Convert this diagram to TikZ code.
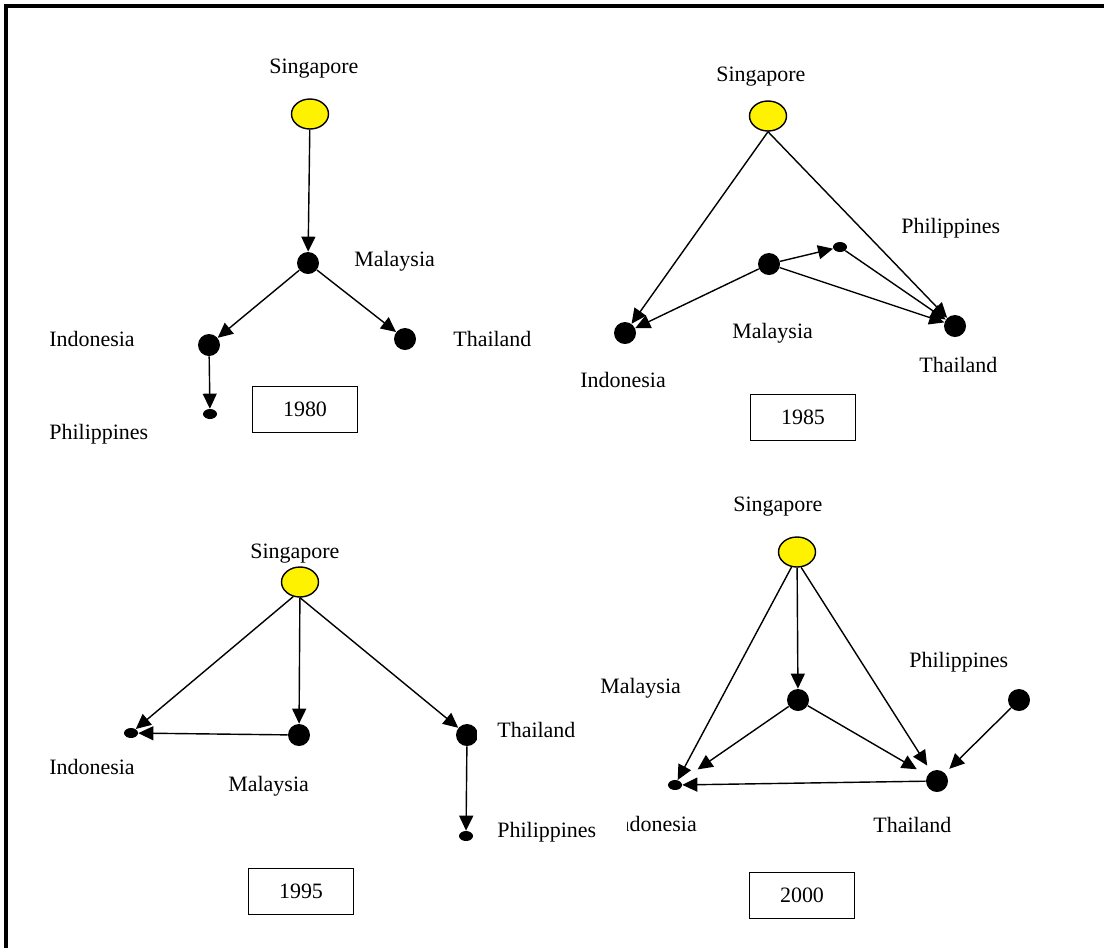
\documentclass[tikz,border=0pt]{standalone}
\usepackage{fontspec}
\setmainfont{Liberation Serif}
\usepackage{tikz}
\usetikzlibrary{arrows.meta}
\usetikzlibrary{shapes.geometric}
\tikzset{edge/.style = {-{Triangle[length=0.3cm, width=0.28cm]}, line width = 0.8pt}}
\tikzset{sing/.style = {ellipse, draw, fill = yellow, line width = 0.8pt, inner sep = 0,
                        minimum width = 0.74cm, minimum height = 0.6cm}}
\tikzset{circ/.style = {fill, circle, inner sep = 0, minimum size = 0.44cm}}
\tikzset{dot/.style = {fill, ellipse, inner sep = 0, minimum width = 0.28cm, minimum height = 0.2cm}}
\tikzset{lab/.style = {fill = white, inner sep = 0, anchor = base west}}
\tikzset{widelab/.style = {lab, inner xsep = 0.4cm, inner ysep = 0.15cm, text width = 2.2cm}}
\tikzset{year/.style = {draw, line width = 0.9pt, minimum width = 2.1cm, minimum height = 0.92cm}}

\begin{document}
\begin{tikzpicture}[x = 0.02cm, y = -0.02cm, font = \fontsize{12.5}{15}\selectfont]
      \useasboundingbox (0, 0) rectangle (1104, 948);
      \draw [line width = 0.08cm] (6, 948) -- (6, 6) -- (1104, 6);

      % 1980
      \node [sing] (sg80) at (310, 114) {};
      \node [circ] (my80) at (308, 263) {};
      \node [circ] (id80) at (209, 345) {};
      \node [circ] (th80) at (405, 339) {};
      \node [dot] (ph80) at (210, 414) {};

      \draw [edge] (sg80) -- (my80);
      \draw [edge] (my80) -- (id80);
      \draw [edge] (my80) -- (th80);
      \draw [edge] (id80) -- (ph80);

      \node [lab] (sgl80) at (269, 73) {Singapore};
      \node [lab] (myl80) at (354, 266) {Malaysia};
      \node [lab] (idl80) at (49, 346) {Indonesia};
      \node [lab] (thl80) at (453, 346) {Thailand};
      \node [lab] (phl80) at (49, 439) {Philippines};
      \node [year] (yr80) at (305, 409.5) {1980};

      % 1985
      \node [sing] (sg85) at (768, 116) {};
      \node [circ] (my85) at (769, 264) {};
      \node [dot] (ph85) at (840, 247) {};
      \node [circ] (id85) at (625, 333) {};
      \node [circ] (th85) at (955, 326) {};

      \draw [edge] (sg85.south) -- (id85);
      \draw [edge] (sg85.south) -- (th85);
      \draw [edge] (my85) -- (ph85);
      \draw [edge] (my85) -- (id85);
      \draw [edge] (my85) -- (th85);
      \draw [edge] (ph85) -- (th85);

      \node [lab] (sgl85) at (716, 81) {Singapore};
      \node [lab] (phl85) at (901, 233) {Philippines};
      \node [lab] (myl85) at (732, 338) {Malaysia};
      \node [lab] (idl85) at (580, 387) {Indonesia};
      \node [lab] (thl85) at (919, 372) {Thailand};
      \node [year] (yr85) at (803, 417.5) {1985};

      % 2000
      \node [sing] (sg00) at (797, 552) {};
      \node [circ] (my00) at (798, 700) {};
      \node [circ] (ph00) at (1019, 700) {};
      \node [dot] (id00) at (675, 785) {};
      \node [circ] (th00) at (937, 781) {};

      \draw [edge] (sg00.250) -- (id00);
      \draw [edge] (sg00) -- (my00);
      \draw [edge, shorten >= 0.14cm] (sg00.285) -- (th00);
      \draw [edge, shorten >= 0.42cm] (my00) -- (id00);
      \draw [edge, shorten >= 0.24cm] (my00) -- (th00);
      \draw [edge, shorten >= 0.12cm] (ph00) -- (th00);
      \draw [edge] (th00) -- (id00);

      \node [lab] (sgl00) at (733, 511) {Singapore};
      \node [lab] (myl00) at (600, 693) {Malaysia};
      \node [lab] (phl00) at (909, 667) {Philippines};
      \node [lab] (idl00) at (611, 831) {Indonesia};
      \node [lab] (thl00) at (873, 832) {Thailand};
      \node [year] (yr00) at (802, 895.5) {2000};

      % 1995 (its label boxes lie over the 2000 panel)
      \node [sing] (sg95) at (300, 582) {};
      \node [circ] (my95) at (299, 735) {};
      \node [dot] (id95) at (131, 733) {};
      \node [circ] (th95) at (467, 735) {};
      \node [dot] (ph95) at (466, 836) {};

      \draw [edge] (sg95.245) -- (id95);
      \draw [edge] (sg95) -- (my95);
      \draw [edge] (sg95.south) -- (th95);
      \draw [edge] (my95) -- (id95);
      \draw [edge] (th95) -- (ph95);

      \node [lab] (sgl95) at (250, 558) {Singapore};
      \node [lab] (idl95) at (49, 774) {Indonesia};
      \node [lab] (myl95) at (228, 791) {Malaysia};
      \node [widelab] (thl95) at (477, 737) {Thailand};
      \node [widelab] (phl95) at (477, 837) {Philippines};
      \node [year] (yr95) at (301, 891.5) {1995};
\end{tikzpicture}
\end{document}
